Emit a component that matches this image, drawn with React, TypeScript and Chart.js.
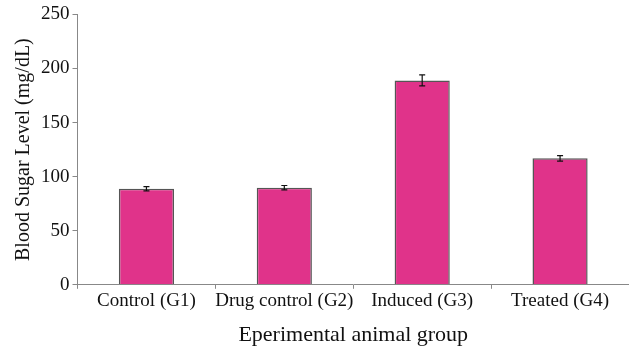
import React, { useEffect, useRef } from "react";
import { Chart, registerables } from "chart.js";

Chart.register(...registerables);

const categories = ["Control (G1)", "Drug control (G2)", "Induced (G3)", "Treated (G4)"];
const meanValues = [88.8, 89.8, 189, 116.9];
const errorValues = [2, 2, 5, 2.5];
const yTicks = [0, 50, 100, 150, 200, 250];

const FONT = "'Liberation Serif', 'Times New Roman', serif";

const errorBarPlugin = {
  id: "errorBars",
  afterDatasetsDraw(chart: any) {
    const { ctx, scales } = chart;
    const meta = chart.getDatasetMeta(0);
    ctx.save();
    ctx.strokeStyle = "#111";
    ctx.lineWidth = 1.2;
    meta.data.forEach((bar: any, i: number) => {
      const x = bar.x;
      const yTop = scales.y.getPixelForValue(meanValues[i] + errorValues[i]);
      const yBot = scales.y.getPixelForValue(meanValues[i] - errorValues[i]);
      ctx.beginPath();
      ctx.moveTo(x, yTop);
      ctx.lineTo(x, yBot);
      ctx.moveTo(x - 3, yTop);
      ctx.lineTo(x + 3, yTop);
      ctx.moveTo(x - 3, yBot);
      ctx.lineTo(x + 3, yBot);
      ctx.stroke();
    });
    ctx.restore();
  },
};

export default function App() {
  const ref = useRef<HTMLCanvasElement>(null);
  useEffect(() => {
    document.body.style.margin = "0";
    const chart = new Chart(ref.current!, {
      type: "bar",
      data: {
        labels: categories,
        datasets: [
          {
            data: meanValues,
            backgroundColor: "#E0338A",
            borderColor: "#555",
            borderWidth: 1.5,
            barPercentage: 0.4,
            categoryPercentage: 1,
          },
        ],
      },
      options: {
        animation: false,
        responsive: false,
        maintainAspectRatio: false,
        layout: { padding: { top: 3, right: 0, left: 12, bottom: 0 } },
        plugins: { legend: { display: false }, tooltip: { enabled: false } },
        scales: {
          x: {
            grid: { display: true, drawOnChartArea: false, tickLength: 4, color: "#888" },
            border: { color: "#888", width: 1 },
            ticks: {
              color: "#111",
              font: { family: FONT, size: 19 },
              maxRotation: 0,
              minRotation: 0,
              autoSkip: false,
              padding: 1,
            },
            title: {
              display: true,
              text: "Eperimental animal group",
              color: "#111",
              font: { family: FONT, size: 22 },
              padding: { top: 8, bottom: 0 },
            },
          },
          y: {
            min: 0,
            max: 250,
            afterBuildTicks: (axis: any) => {
              axis.ticks = yTicks.map((v) => ({ value: v }));
            },
            grid: { display: true, drawOnChartArea: false, tickLength: 5, color: "#888" },
            border: { color: "#888", width: 1 },
            ticks: {
              color: "#111",
              font: { family: FONT, size: 19 },
              padding: 3,
            },
            title: {
              display: true,
              text: "Blood Sugar Level (mg/dL)",
              color: "#111",
              font: { family: FONT, size: 20 },
              padding: { top: 0, bottom: 2 },
            },
          },
        },
      },
      plugins: [errorBarPlugin],
    });
    return () => chart.destroy();
  }, []);
  return (
    <div style={{ width: 629, height: 348, background: "#fff" }}>
      <canvas ref={ref} width={629} height={348} style={{ display: "block" }} />
    </div>
  );
}
